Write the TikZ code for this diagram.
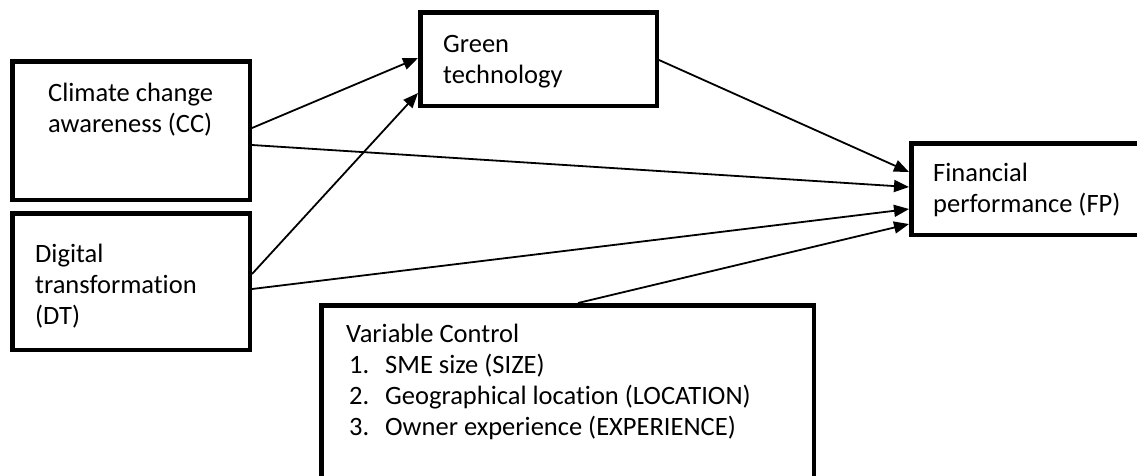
\documentclass[tikz,border=0pt]{standalone}
\usepackage{fontspec}
\setmainfont{Carlito}[Ligatures=NoCommon]
\usetikzlibrary{arrows.meta,calc}
\begin{document}
\begin{tikzpicture}[x=1pt,y=-1pt,
  box/.style={draw=black,line width=4.5pt,rectangle,inner sep=0pt,anchor=north west},
  lbl/.style={anchor=base west,align=left,inner sep=0pt,font=\fontsize{26.5}{31}\selectfont},
  conn/.style={line width=1.8pt,-{Triangle[length=15pt,width=12pt]}}]
\useasboundingbox (0,0) rectangle (1137,475);
% boxes
\node[box,minimum width=237.5pt,minimum height=138.5pt] (cc) at (10,59) {};
\node[box,minimum width=237.5pt,minimum height=136.5pt] (dt) at (10,211) {};
\node[box,minimum width=236.5pt,minimum height=93.5pt] (gt) at (418,10) {};
\node[box,minimum width=240pt,minimum height=91.5pt] (fp) at (909,141) {};
\node[box,minimum width=492.5pt,minimum height=190pt] (vc) at (319,303) {};
% texts (anchor = baseline of last line)
\node[lbl] (cct) at (48,132) {Climate change\\awareness (CC)};
\node[lbl] (dtt) at (35,324) {Digital\\transformation\\(DT)};
\node[lbl] (gtt) at (443,83) {Green\\technology};
\node[lbl] (fpt) at (933,212) {Financial\\performance (FP)};
\node[lbl] (vct) at (346,435) {Variable Control\\
\hspace*{3pt}\makebox[36pt][l]{1.}SME size (SIZE)\\
\hspace*{3pt}\makebox[36pt][l]{2.}Geographical location (LOCATION)\\
\hspace*{3pt}\makebox[36pt][l]{3.}Owner experience (EXPERIENCE)};
% connectors
\draw[conn] ($(cc.north east)+(0,69)$) -- ($(gt.north west)+(0,48)$);
\draw[conn] ($(dt.north east)+(0,63)$) -- ($(gt.north west)+(0,83)$);
\draw[conn] ($(gt.north east)+(0,50)$) -- ($(fp.north west)+(0,31)$);
\draw[conn] ($(cc.north east)+(0,86)$) -- ($(fp.north west)+(0,46)$);
\draw[conn] ($(dt.north east)+(0,78)$) -- ($(fp.north west)+(0,68)$);
\draw[conn] ($(vc.north west)+(259,0)$) -- ($(fp.north west)+(0,83)$);
\end{tikzpicture}
\end{document}
